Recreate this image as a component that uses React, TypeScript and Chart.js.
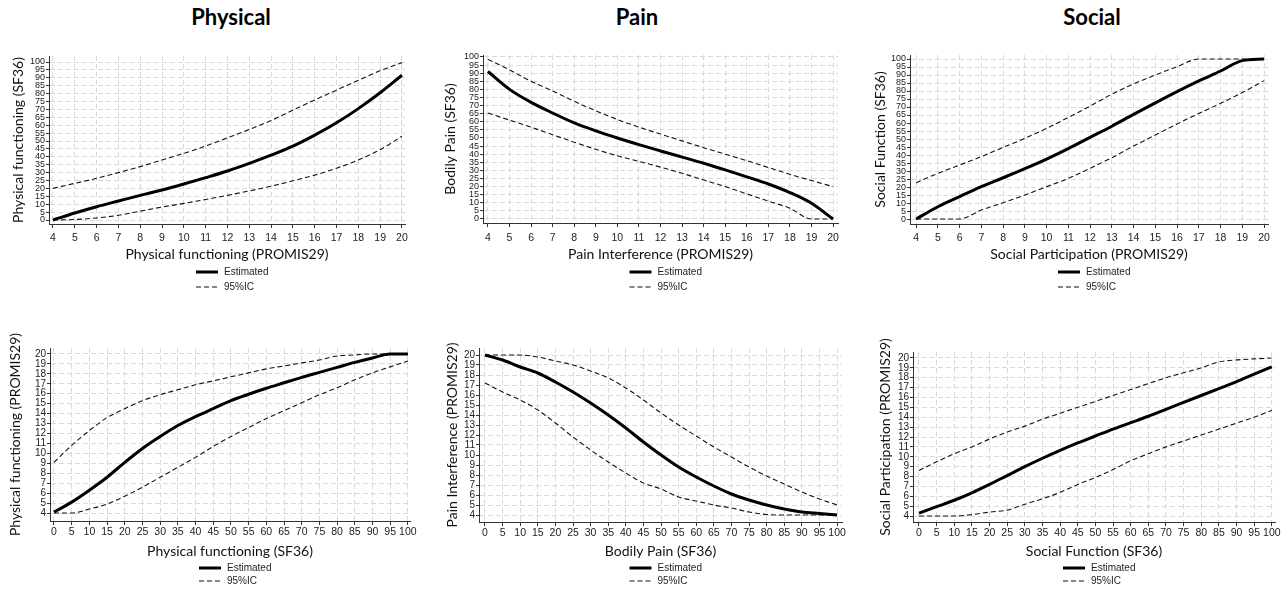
import React, { useEffect, useRef } from 'react';
import { Chart, registerables } from 'chart.js';

Chart.register(...registerables);

// ---------- categories / ticks ----------
const promisX = [4, 5, 6, 7, 8, 9, 10, 11, 12, 13, 14, 15, 16, 17, 18, 19, 20];
const sf36X = [0, 5, 10, 15, 20, 25, 30, 35, 40, 45, 50, 55, 60, 65, 70, 75, 80, 85, 90, 95, 100];
const sf36Ticks = [0, 5, 10, 15, 20, 25, 30, 35, 40, 45, 50, 55, 60, 65, 70, 75, 80, 85, 90, 95, 100];
const promisTicks = [4, 5, 6, 7, 8, 9, 10, 11, 12, 13, 14, 15, 16, 17, 18, 19, 20];

// ---------- PROMIS29 -> SF36 ----------
const physEst = [0, 4.4, 8.4, 12, 15.6, 19, 22.8, 26.8, 31, 35.8, 41, 46.7, 53.7, 61.5, 70.5, 80.5, 91.6];
const physUp = [20, 23.2, 26.4, 30, 33.8, 38, 42.2, 46.8, 52, 57.3, 63, 69.5, 76, 82.2, 88.4, 94.5, 99.6];
const physLo = [0, 0.3, 1.3, 3, 5.6, 8.2, 10.5, 13, 15.6, 18.4, 21.4, 24.8, 28.4, 32.8, 38, 44.5, 53];

const painEst = [91, 80, 72, 65.4, 59.3, 54.4, 50, 45.9, 42, 38.2, 34.4, 30.3, 26, 21.6, 16.3, 9.7, 0];
const painUp = [98.5, 92, 85, 79, 72.6, 66.8, 61.4, 56.7, 52.4, 48.2, 44, 40, 36, 31.8, 27.6, 23.7, 20];
const painLo = [65.4, 61, 56.7, 52, 47.4, 43, 39, 35.5, 32, 28.2, 24.1, 20, 15.5, 11, 6.6, 0, 0];

const socEst = [0, 7.7, 14, 20.2, 25.8, 31.5, 37.5, 44, 51, 58, 65.4, 72.6, 79.6, 86.3, 92.5, 99, 100];
const socUp = [22.7, 28.5, 33.75, 39, 44.8, 50.4, 56.7, 63.5, 70.6, 78, 84.4, 90, 95.2, 100, 100, 100, 100];
const socLo = [0, 0, 0, 5.6, 10.2, 15, 20.2, 25.4, 31.7, 38.3, 45.6, 52.5, 59.4, 66, 72.3, 79, 86.5];

// ---------- SF36 -> PROMIS29 ----------
const physRevEst = [4.1, 5.1, 6.3, 7.6, 9.1, 10.5, 11.7, 12.8, 13.7, 14.5, 15.3, 15.95, 16.55, 17.1, 17.65, 18.15, 18.65, 19.15, 19.6, 20, 20];
const physRevUp = [9.1, 10.8, 12.3, 13.6, 14.5, 15.3, 15.9, 16.4, 16.9, 17.3, 17.7, 18.1, 18.5, 18.8, 19.1, 19.4, 19.8, 19.9, 20, 20, 20];
const physRevLo = [4, 4, 4.4, 4.9, 5.7, 6.6, 7.6, 8.6, 9.6, 10.7, 11.7, 12.6, 13.5, 14.3, 15.1, 15.9, 16.6, 17.4, 18.1, 18.7, 19.3];

const painRevEst = [20, 19.5, 18.8, 18.2, 17.3, 16.3, 15.2, 14, 12.7, 11.3, 10, 8.8, 7.8, 6.9, 6.1, 5.5, 5.0, 4.6, 4.3, 4.15, 4.0];
const painRevUp = [20, 20, 20, 19.8, 19.4, 19, 18.4, 17.7, 16.7, 15.5, 14.2, 13, 11.9, 10.8, 9.8, 8.8, 7.9, 7.1, 6.3, 5.6, 5.0];
const painRevLo = [17.2, 16.3, 15.5, 14.5, 13.2, 11.8, 10.5, 9.3, 8.2, 7.2, 6.6, 5.8, 5.4, 5.0, 4.7, 4.3, 4.05, 4, 4, 4, 4];

const socRevEst = [4.3, 4.95, 5.6, 6.35, 7.2, 8.1, 9.0, 9.85, 10.65, 11.4, 12.1, 12.8, 13.45, 14.1, 14.8, 15.5, 16.2, 16.9, 17.6, 18.35, 19.1];
const socRevUp = [8.6, 9.5, 10.3, 11, 11.8, 12.5, 13.1, 13.8, 14.4, 15.0, 15.6, 16.2, 16.8, 17.4, 18, 18.5, 19, 19.6, 19.8, 19.9, 20];
const socRevLo = [4, 4, 4, 4.15, 4.4, 4.6, 5.2, 5.75, 6.4, 7.2, 7.9, 8.7, 9.6, 10.3, 11, 11.6, 12.2, 12.8, 13.4, 14, 14.7];

const columnTitles = ['Physical', 'Pain', 'Social'];
const legendLabels = ['Estimated', '95%IC'];

const NARROW = '"Liberation Sans Narrow", "Arial Narrow", "Liberation Sans", Arial, sans-serif';
const TITLE_FONT = 'Lato, "Open Sans", sans-serif';

type Panel = {
  left: number; top: number; width: number; height: number;
  area: { l: number; r: number; t: number; b: number };
  xMin: number; xMax: number; yMin: number; yMax: number;
  xs: number[]; est: number[]; up: number[]; lo: number[];
  xTicks: number[]; yTicks: number[];
  xTitle: string; yTitle: string;
  yTitleX: number; xTitleY: number; xTickPad: number;
  legendY: number[]; yTickSize: number;
};

const panels: Panel[] = [
  {
    left: 0, top: 40, width: 420, height: 260, area: { l: 49, r: 405, t: 56, b: 224 },
    xMin: 3.817, xMax: 20.14, yMin: -2.53, yMax: 103.8,
    xs: promisX, est: physEst, up: physUp, lo: physLo, xTicks: promisTicks, yTicks: sf36Ticks,
    xTitle: 'Physical functioning (PROMIS29)', yTitle: 'Physical functioning (SF36)',
    yTitleX: 18, xTitleY: 255, xTickPad: 4, legendY: [272, 287], yTickSize: 9,
  },
  {
    left: 420, top: 40, width: 440, height: 260, area: { l: 483, r: 838, t: 55, b: 223 },
    xMin: 3.77, xMax: 20.23, yMin: -2.47, yMax: 101.2,
    xs: promisX, est: painEst, up: painUp, lo: painLo, xTicks: promisTicks, yTicks: sf36Ticks,
    xTitle: 'Pain Interference (PROMIS29)', yTitle: 'Bodily Pain (SF36)',
    yTitleX: 450, xTitleY: 255, xTickPad: 5, legendY: [272, 287], yTickSize: 9,
  },
  {
    left: 860, top: 40, width: 428, height: 260, area: { l: 910, r: 1268, t: 55, b: 224 },
    xMin: 3.72, xMax: 20.18, yMin: -3.1, yMax: 102.5,
    xs: promisX, est: socEst, up: socUp, lo: socLo, xTicks: promisTicks, yTicks: sf36Ticks,
    xTitle: 'Social Participation (PROMIS29)', yTitle: 'Social Function (SF36)',
    yTitleX: 880, xTitleY: 255, xTickPad: 4, legendY: [272, 287], yTickSize: 9,
  },
  {
    left: 0, top: 330, width: 420, height: 260, area: { l: 50, r: 410, t: 348, b: 521 },
    xMin: -1.13, xMax: 100.6, yMin: 3.2, yMax: 20.6,
    xs: sf36X, est: physRevEst, up: physRevUp, lo: physRevLo, xTicks: sf36Ticks, yTicks: promisTicks,
    xTitle: 'Physical functioning (SF36)', yTitle: 'Physical functioning (PROMIS29)',
    yTitleX: 15, xTitleY: 552, xTickPad: 1, legendY: [568, 581], yTickSize: 10,
  },
  {
    left: 420, top: 330, width: 440, height: 260, area: { l: 479, r: 842, t: 348, b: 522 },
    xMin: -1.7, xMax: 101.4, yMin: 3.3, yMax: 20.7,
    xs: sf36X, est: painRevEst, up: painRevUp, lo: painRevLo, xTicks: sf36Ticks, yTicks: promisTicks,
    xTitle: 'Bodily Pain (SF36)', yTitle: 'Pain Interference (PROMIS29)',
    yTitleX: 452, xTitleY: 552, xTickPad: 1, legendY: [568, 581], yTickSize: 10,
  },
  {
    left: 860, top: 330, width: 428, height: 260, area: { l: 913, r: 1275, t: 352, b: 522 },
    xMin: -1.7, xMax: 100.9, yMin: 3.4, yMax: 20.6,
    xs: sf36X, est: socRevEst, up: socRevUp, lo: socRevLo, xTicks: sf36Ticks, yTicks: promisTicks,
    xTitle: 'Social Function (SF36)', yTitle: 'Social Participation (PROMIS29)',
    yTitleX: 885, xTitleY: 552, xTickPad: 1, legendY: [568, 581], yTickSize: 10,
  },
];

const titlePos = [231, 637, 1092];

const stackedLegend = {
  id: 'stackedLegend',
  afterDraw(chart: any, _args: any, opts: any) {
    const { ctx, chartArea } = chart;
    const cx = (chartArea.left + chartArea.right) / 2;
    const items = [chart.data.datasets[0], chart.data.datasets[1]];
    items.forEach((ds: any, i: number) => {
      const y = opts.y[i];
      ctx.save();
      ctx.strokeStyle = ds.borderColor;
      ctx.lineWidth = ds.borderWidth;
      ctx.setLineDash(ds.borderDash || []);
      ctx.beginPath();
      ctx.moveTo(cx - 31, y);
      ctx.lineTo(cx - 9, y);
      ctx.stroke();
      ctx.setLineDash([]);
      ctx.fillStyle = '#222';
      ctx.font = `10px ${NARROW}`;
      ctx.textBaseline = 'middle';
      ctx.textAlign = 'left';
      ctx.fillText(ds.label, cx - 3, y);
      ctx.restore();
    });
  },
};

function PanelChart({ p }: { p: Panel }) {
  const ref = useRef<HTMLCanvasElement | null>(null);
  useEffect(() => {
    if (!ref.current) return;
    const xAxisH = p.xTitleY + 8 - p.area.b;
    const yAxisW = p.area.l - p.left;
    const toPts = (ys: number[]) => p.xs.map((x, i) => ({ x, y: ys[i] }));
    const gridCommon = {
      color: '#dadada',
      lineWidth: 1,
      drawTicks: true,
      tickLength: 4,
      tickColor: '#333',
      tickWidth: 1,
      tickBorderDash: [],
    };
    const borderCommon = { display: true, color: '#333', width: 1, dash: [5, 3] };
    const chart = new Chart(ref.current, {
      type: 'line',
      data: {
        datasets: [
          {
            label: legendLabels[0], data: toPts(p.est), borderColor: '#000', borderWidth: 3,
            pointRadius: 0, cubicInterpolationMode: 'monotone', fill: false,
          },
          {
            label: legendLabels[1], data: toPts(p.up), borderColor: '#111', borderWidth: 1.1,
            borderDash: [5, 3], pointRadius: 0, cubicInterpolationMode: 'monotone', fill: false,
          },
          {
            label: legendLabels[1], data: toPts(p.lo), borderColor: '#111', borderWidth: 1.1,
            borderDash: [5, 3], pointRadius: 0, cubicInterpolationMode: 'monotone', fill: false,
          },
        ],
      },
      options: {
        animation: false,
        responsive: true,
        maintainAspectRatio: false,
        events: [],
        layout: {
          padding: {
            left: 0,
            top: p.area.t - p.top,
            right: p.left + p.width - p.area.r,
            bottom: p.top + p.height - (p.xTitleY + 8),
          },
        },
        plugins: {
          legend: { display: false },
          tooltip: { enabled: false },
          title: { display: false },
          stackedLegend: { y: p.legendY.map((v) => v - p.top) },
        } as any,
        scales: {
          x: {
            type: 'linear',
            min: p.xMin,
            max: p.xMax,
            afterBuildTicks: (s: any) => { s.ticks = p.xTicks.map((v) => ({ value: v })); },
            afterFit: (s: any) => { s.height = xAxisH; s.paddingLeft = 0; s.paddingRight = 0; },
            ticks: {
              autoSkip: false, maxRotation: 0, minRotation: 0, padding: p.xTickPad, color: '#222',
              font: { family: NARROW, size: 10.5 },
            },
            grid: gridCommon,
            border: borderCommon,
            title: {
              display: true, text: p.xTitle, color: '#111',
              font: { family: TITLE_FONT, size: 14 }, padding: { top: 0, bottom: 0 },
            },
          },
          y: {
            type: 'linear',
            min: p.yMin,
            max: p.yMax,
            afterBuildTicks: (s: any) => { s.ticks = p.yTicks.map((v) => ({ value: v })); },
            afterFit: (s: any) => { s.width = yAxisW; s.paddingTop = 0; s.paddingBottom = 0; },
            ticks: {
              autoSkip: false, padding: 1, color: '#222',
              font: { family: NARROW, size: p.yTickSize },
            },
            grid: { ...gridCommon, tickLength: 3 },
            border: borderCommon,
            title: {
              display: true, text: p.yTitle, color: '#111',
              font: { family: TITLE_FONT, size: 14 },
              padding: { top: p.yTitleX - p.left - 8.4, bottom: 0 },
            },
          },
        },
      } as any,
      plugins: [stackedLegend as any],
    });
    return () => chart.destroy();
  }, [p]);
  return (
    <div style={{ position: 'absolute', left: p.left, top: p.top, width: p.width, height: p.height }}>
      <canvas ref={ref} />
    </div>
  );
}

export default function App() {
  return (
    <div style={{ position: 'absolute', left: 0, top: 0, width: 1288, height: 590, background: '#fff', overflow: 'hidden' }}>
      {columnTitles.map((t, i) => (
        <div
          key={t}
          style={{
            position: 'absolute', left: titlePos[i] - 100, width: 200, top: 3, lineHeight: '28px',
            textAlign: 'center', fontFamily: TITLE_FONT, fontWeight: 700, fontSize: 22, color: '#000',
          }}
        >
          {t}
        </div>
      ))}
      {panels.map((p, i) => (
        <PanelChart key={i} p={p} />
      ))}
    </div>
  );
}
